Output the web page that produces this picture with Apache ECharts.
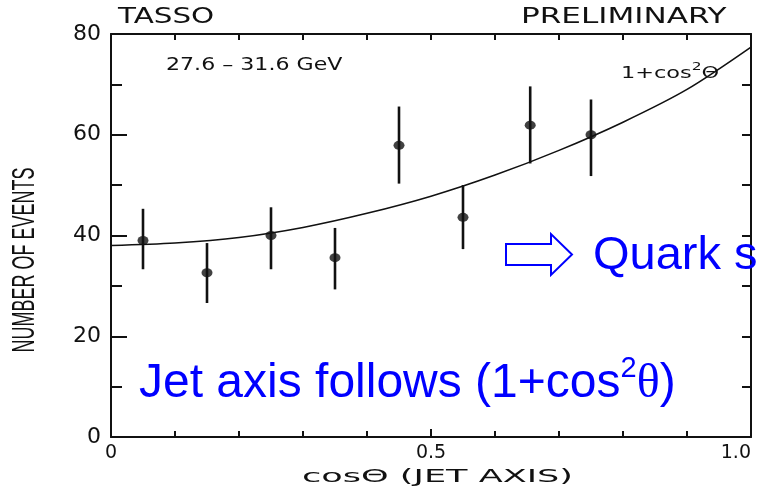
<!DOCTYPE html>
<html lang="en">
<head>
    <meta charset="UTF-8">
    <title>TASSO jet axis</title>
    <style>
        *{
            margin: 0;
            padding: 0;
        }
        html, body{
            height: 100%;
            width: 100%;
            background: #fff;
        }
        #chart{
            width: 758px;
            height: 491px;
        }
    </style>
</head>
<body>
<div id="chart"></div>
<script src="https://cdn.jsdelivr.net/npm/echarts@6/dist/echarts.min.js"></script>
<script>
    // measured points (cos theta bins)
    var cosTheta = [0.05, 0.15, 0.25, 0.35, 0.45, 0.55, 0.655, 0.75];
    var events = [39.0, 32.6, 40.0, 35.6, 57.9, 43.6, 61.9, 60.0];
    var errLow = [33.3, 26.6, 33.3, 29.3, 50.3, 37.3, 54.3, 51.8];
    var errHigh = [45.3, 38.5, 45.6, 41.5, 65.6, 50.0, 69.6, 67.0];

    // 1+cos^2 curve
    var curveX = [0, 0.1, 0.2, 0.3, 0.4, 0.5, 0.6, 0.7, 0.8, 0.9, 1.0];
    var curveY = [38.0, 38.5, 39.6, 41.6, 44.4, 47.8, 52.0, 56.9, 62.5, 69.0, 77.4];

    var xTickValues = [0, 0.5, 1];
    var xTickLabels = ['0', '0.5', '1.0'];
    var yTickValues = [0, 20, 40, 60, 80];
    var yTickLabels = ['0', '20', '40', '60', '80'];

    var chart = echarts.init(document.getElementById('chart'));

    var points = cosTheta.map(function (x, i) { return [x, events[i]]; });
    var bars = cosTheta.map(function (x, i) { return [x, errLow[i], errHigh[i]]; });
    var curve = curveX.map(function (x, i) { return [x, curveY[i]]; });

    var blue = '#0000ff';
    var ink = '#111';

    var option = {
        backgroundColor: '#fff',
        animation: false,
        grid: { left: 111, top: 34, right: 7, bottom: 54 },
        xAxis: [{
            type: 'value', min: 0, max: 1, interval: 0.5,
            axisLine: { onZero: false, lineStyle: { color: ink, width: 2 } },
            axisTick: { inside: true, length: 8, lineStyle: { color: ink, width: 2 } },
            minorTick: { show: true, splitNumber: 5, length: 6, lineStyle: { color: ink, width: 2 } },
            splitLine: { show: false },
            axisLabel: {
                color: ink, fontFamily: 'DejaVu Sans', fontSize: 19, margin: 7,
                alignMaxLabel: 'right',
                formatter: function (v) {
                    var k = xTickValues.indexOf(v);
                    return k < 0 ? '' : xTickLabels[k];
                }
            }
        }, {
            type: 'value', min: 0, max: 1, interval: 0.1, position: 'top',
            axisLine: { onZero: false, lineStyle: { color: ink, width: 2 } },
            axisTick: { inside: true, length: 6, lineStyle: { color: ink, width: 2 } },
            axisLabel: { show: false },
            splitLine: { show: false }
        }],
        yAxis: [{
            type: 'value', min: 0, max: 80, interval: 20,
            axisLine: { show: true, onZero: false, lineStyle: { color: ink, width: 2 } },
            axisTick: { inside: true, length: 16, lineStyle: { color: ink, width: 2 } },
            minorTick: { show: true, splitNumber: 2, length: 11, lineStyle: { color: ink, width: 2 } },
            splitLine: { show: false },
            axisLabel: {
                color: ink, fontFamily: 'DejaVu Sans', fontSize: 22, margin: 10,
                formatter: function (v) {
                    var k = yTickValues.indexOf(v);
                    return k < 0 ? '' : yTickLabels[k];
                }
            }
        }, {
            type: 'value', min: 0, max: 80, interval: 10, position: 'right',
            axisLine: { show: true, onZero: false, lineStyle: { color: ink, width: 2 } },
            axisTick: { inside: true, length: 9, lineStyle: { color: ink, width: 2 } },
            axisLabel: { show: false },
            splitLine: { show: false }
        }],
        series: [{
            type: 'line',
            data: curve,
            smooth: 0.3,
            showSymbol: false,
            lineStyle: { color: ink, width: 1.6 },
            z: 2
        }, {
            type: 'custom',
            data: bars,
            renderItem: function (params, api) {
                var a = api.coord([api.value(0), api.value(1)]);
                var b = api.coord([api.value(0), api.value(2)]);
                return {
                    type: 'line',
                    shape: { x1: a[0], y1: a[1], x2: b[0], y2: b[1] },
                    style: { stroke: ink, lineWidth: 2.6 }
                };
            },
            z: 3
        }, {
            type: 'scatter',
            data: points,
            symbol: 'circle',
            symbolSize: [11, 9],
            itemStyle: { color: ink },
            z: 4
        }],
        graphic: [
            {
                type: 'text', x: 118, y: 18, scaleX: 1.4,
                style: { text: 'TASSO', x: 0, y: 0, fill: ink, font: '21px "DejaVu Sans"', verticalAlign: 'middle' }
            },
            {
                type: 'text', x: 521, y: 18, scaleX: 1.48,
                style: { text: 'PRELIMINARY', x: 0, y: 0, fill: ink, font: '21px "DejaVu Sans"', verticalAlign: 'middle' }
            },
            {
                type: 'text', x: 166, y: 66, scaleX: 1.3,
                style: { text: '27.6 \u2013 31.6 GeV', x: 0, y: 0, fill: ink, font: '17px "DejaVu Sans"', verticalAlign: 'middle' }
            },
            {
                type: 'text', x: 621, y: 72, scaleX: 1.4,
                style: {
                    text: '{b|1+cos}{s|2}{b|\u0398}', x: 0, y: 0, verticalAlign: 'middle',
                    rich: {
                        b: { fill: ink, fontFamily: 'DejaVu Sans', fontSize: 16, lineHeight: 20, verticalAlign: 'bottom' },
                        s: { fill: ink, fontFamily: 'DejaVu Sans', fontSize: 11, lineHeight: 12, verticalAlign: 'top' }
                    }
                }
            },
            {
                type: 'text', x: 302, y: 477, scaleX: 1.95,
                style: { text: 'cos\u0398 (JET AXIS)', x: 0, y: 0, fill: ink, font: '18px "DejaVu Sans"', verticalAlign: 'middle' }
            },
            {
                type: 'text', x: 25, y: 260, rotation: Math.PI / 2, scaleX: 0.58,
                style: { text: 'NUMBER OF EVENTS', x: 0, y: 0, fill: ink, font: '31px "Liberation Sans"', align: 'center', verticalAlign: 'middle' }
            },
            {
                type: 'polygon',
                shape: { points: [[506, 244], [551, 244], [551, 234], [572, 254.5], [551, 275], [551, 265], [506, 265]] },
                style: { fill: '#fff', stroke: blue, lineWidth: 2 },
                z: 10
            },
            {
                type: 'text', x: 593, y: 256, z: 10,
                style: { text: 'Quark s', x: 0, y: 0, fill: blue, font: '47px "Liberation Sans"', verticalAlign: 'middle' }
            },
            {
                type: 'text', x: 139, y: 381, z: 10,
                style: {
                    text: '{a|Jet axis follows (1+cos}{s|2}{t|\u03b8}{a|)}', x: 0, y: 0, verticalAlign: 'middle',
                    rich: {
                        a: { fill: blue, fontFamily: 'Liberation Sans', fontSize: 48, lineHeight: 54, verticalAlign: 'bottom' },
                        s: { fill: blue, fontFamily: 'Liberation Sans', fontSize: 29, lineHeight: 36, verticalAlign: 'top' },
                        t: { fill: blue, fontFamily: 'Liberation Serif', fontSize: 48, lineHeight: 54, verticalAlign: 'bottom' }
                    }
                }
            }
        ]
    };

    chart.setOption(option);
    window.onresize = function () {
        chart.resize();
    };
</script>
</body>
</html>
